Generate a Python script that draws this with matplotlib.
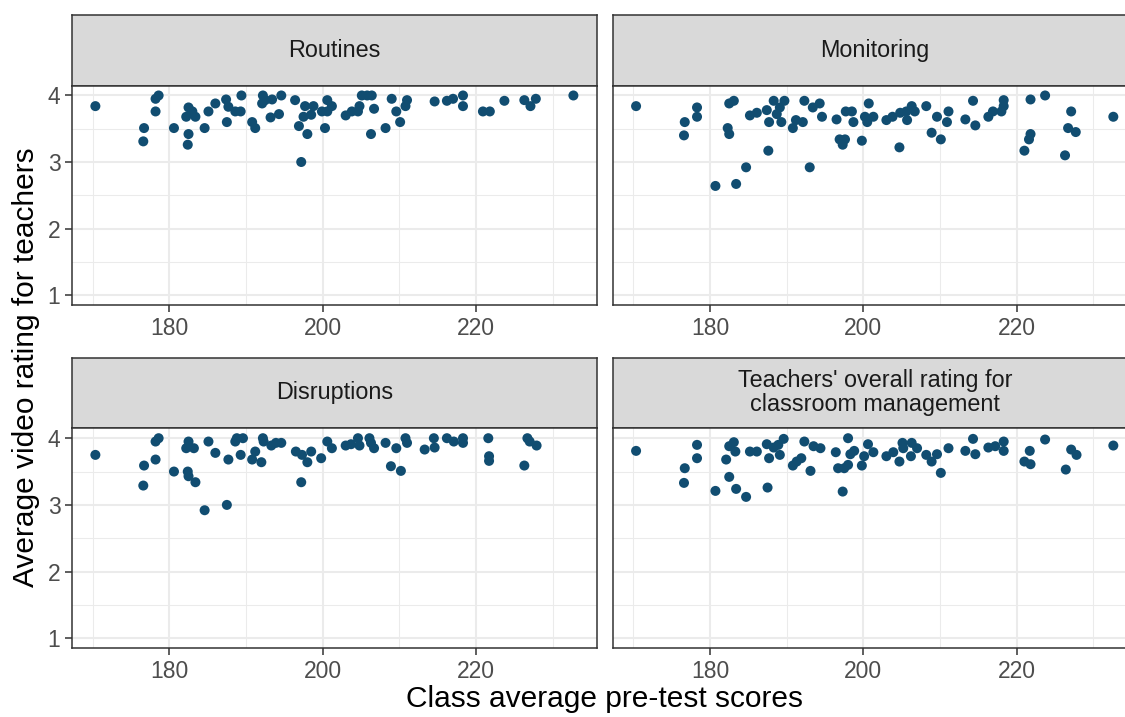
import matplotlib
matplotlib.use("Agg")
from matplotlib import pyplot as plt

plt.rcParams['font.family'] = ['Liberation Sans', 'DejaVu Sans']

# Class average pre-test score (x) vs average video rating (y), one list pair per facet
routines_x = [170.35, 176.6, 176.7, 178.2, 178.2, 178.6, 180.6, 182.4, 182.5, 182.5, 182.2, 183.0,
              183.4, 184.6, 185.1, 186.0, 187.4, 187.5, 187.7, 188.6, 189.3, 189.4, 190.8, 191.2,
              192.1, 192.2, 192.5, 193.4, 193.2, 194.3, 194.6, 196.4, 196.9, 197.2, 197.5, 197.7,
              198.0, 198.5, 198.8, 199.9, 200.3, 200.6, 200.6, 201.2, 203.0, 203.8, 204.6, 204.8,
              205.1, 205.8, 206.4, 206.3, 206.7, 208.2, 209.0, 209.6, 210.1, 210.8, 211.0, 214.6,
              216.2, 217.0, 218.3, 218.3, 220.9, 221.8, 223.7, 226.3, 227.1, 227.8, 232.7]
routines_y = [3.84, 3.31, 3.51, 3.76, 3.95, 4.0, 3.51, 3.26, 3.42, 3.82, 3.68, 3.76,
              3.68, 3.51, 3.76, 3.88, 3.94, 3.60, 3.83, 3.76, 3.76, 4.0, 3.60, 3.51,
              3.88, 4.0, 3.93, 3.94, 3.67, 3.72, 4.0, 3.93, 3.54, 3.0, 3.68, 3.84,
              3.42, 3.71, 3.84, 3.76, 3.51, 3.76, 3.93, 3.84, 3.70, 3.76, 3.76, 3.84,
              4.0, 4.0, 4.0, 3.42, 3.80, 3.51, 3.95, 3.76, 3.60, 3.84, 3.93, 3.91,
              3.92, 3.95, 4.0, 3.84, 3.76, 3.76, 3.92, 3.93, 3.84, 3.95, 4.0]

monitoring_x = [170.35, 176.6, 176.7, 178.3, 178.3, 180.7, 182.3, 182.5, 182.5, 183.1, 183.4, 184.7,
                185.2, 186.1, 187.4, 187.6, 187.7, 188.3, 188.7, 189.1, 189.3, 189.7, 190.8, 191.2,
                192.1, 192.3, 193.0, 193.4, 194.3, 194.6, 196.5, 196.9, 197.3, 197.6, 197.7, 198.5,
                198.7, 199.8, 200.2, 200.5, 200.7, 201.3, 203.0, 203.8, 204.7, 204.8, 205.6, 205.7,
                206.3, 206.7, 208.2, 208.9, 209.6, 210.1, 210.9, 211.1, 213.3, 214.3, 214.6, 216.3,
                216.9, 218.0, 218.3, 218.3, 221.0, 221.6, 221.8, 221.8, 223.7, 226.3, 226.7, 227.1,
                227.7, 232.6]
monitoring_y = [3.84, 3.40, 3.60, 3.68, 3.82, 2.64, 3.51, 3.42, 3.88, 3.92, 2.67, 2.92,
                3.70, 3.74, 3.78, 3.17, 3.60, 3.92, 3.72, 3.82, 3.60, 3.92, 3.51, 3.63,
                3.60, 3.92, 2.92, 3.82, 3.88, 3.68, 3.64, 3.34, 3.26, 3.34, 3.76, 3.76,
                3.60, 3.32, 3.68, 3.60, 3.88, 3.68, 3.63, 3.68, 3.22, 3.74, 3.76, 3.63,
                3.84, 3.76, 3.84, 3.44, 3.68, 3.34, 3.60, 3.76, 3.64, 3.92, 3.55, 3.68,
                3.76, 3.76, 3.84, 3.93, 3.17, 3.34, 3.42, 3.94, 4.0, 3.10, 3.51, 3.76,
                3.45, 3.68]

disruptions_x = [170.35, 176.6, 176.7, 178.2, 178.2, 178.6, 180.6, 182.4, 182.5, 183.4, 182.2, 182.5,
                 183.2, 184.6, 185.1, 186.0, 187.5, 187.7, 188.6, 188.8, 189.3, 189.6, 190.8, 191.2,
                 192.0, 192.2, 192.3, 193.3, 193.9, 194.6, 196.5, 197.2, 197.3, 198.0, 198.5, 199.8,
                 200.6, 201.2, 203.0, 203.7, 204.6, 204.8, 206.1, 206.3, 206.7, 208.2, 208.9, 209.6,
                 210.2, 210.8, 211.0, 213.3, 214.5, 214.6, 216.2, 217.1, 218.3, 218.3, 221.6, 221.7,
                 221.7, 226.3, 226.7, 227.0, 227.9]
disruptions_y = [3.75, 3.29, 3.59, 3.68, 3.95, 4.0, 3.50, 3.50, 3.43, 3.34, 3.85, 3.95,
                 3.85, 2.92, 3.95, 3.78, 3.0, 3.68, 3.95, 4.0, 3.75, 4.0, 3.68, 3.80,
                 3.64, 4.0, 3.95, 3.89, 3.93, 3.93, 3.80, 3.34, 3.75, 3.64, 3.80, 3.70,
                 3.95, 3.85, 3.89, 3.91, 4.0, 3.89, 4.0, 3.93, 3.85, 3.93, 3.58, 3.85,
                 3.51, 4.0, 3.93, 3.83, 4.0, 3.86, 4.0, 3.95, 4.0, 3.93, 4.0, 3.73,
                 3.66, 3.59, 4.0, 3.95, 3.89]

overall_x = [170.35, 176.6, 176.7, 178.3, 178.3, 180.7, 182.1, 182.5, 182.5, 183.1, 183.3, 183.4,
             184.7, 185.2, 186.1, 187.4, 187.5, 187.7, 188.3, 188.9, 189.1, 189.6, 190.8, 191.3,
             191.9, 192.3, 193.1, 193.5, 194.4, 196.4, 196.7, 197.3, 197.5, 198.0, 198.0, 198.3,
             198.8, 199.8, 200.1, 200.6, 201.3, 203.0, 203.9, 204.7, 205.1, 205.2, 206.2, 206.3,
             207.0, 208.2, 208.9, 209.6, 210.1, 211.1, 213.3, 214.3, 214.6, 216.3, 217.2, 218.3,
             218.3, 221.0, 221.7, 221.8, 223.7, 226.4, 227.1, 227.8, 232.6]
overall_y = [3.81, 3.33, 3.55, 3.70, 3.90, 3.21, 3.68, 3.42, 3.88, 3.94, 3.80, 3.24,
             3.12, 3.80, 3.80, 3.91, 3.26, 3.70, 3.86, 3.90, 3.75, 3.99, 3.59, 3.65,
             3.70, 3.95, 3.51, 3.88, 3.85, 3.79, 3.55, 3.20, 3.55, 3.60, 4.0, 3.76,
             3.81, 3.59, 3.73, 3.91, 3.79, 3.73, 3.79, 3.65, 3.93, 3.85, 3.73, 3.93,
             3.85, 3.75, 3.65, 3.76, 3.48, 3.85, 3.81, 3.99, 3.76, 3.86, 3.88, 3.95,
             3.81, 3.65, 3.81, 3.61, 3.98, 3.53, 3.83, 3.75, 3.89]

titles = ["Routines", "Monitoring", "Disruptions",
          "Teachers' overall rating for\nclassroom management"]
xs = [routines_x, monitoring_x, disruptions_x, overall_x]
ys = [routines_y, monitoring_y, disruptions_y, overall_y]

W, H = 1125, 717
point_col = '#114d71'
border_col = '#333333'

fig = plt.figure(figsize=(W / 100, H / 100), dpi=100)


def px_axes(x0, y0, x1, y1):
    return fig.add_axes([x0 / W, 1 - y1 / H, (x1 - x0) / W, (y1 - y0) / H])


cols = [(72.3, 596.7), (613.0, 1137.4)]
rows = [(15, 85.5, 305), (357.7, 428.2, 648.3)]

for i in range(4):
    r, c = divmod(i, 2)
    x0, x1 = cols[c]
    s_top, p_top, p_bot = rows[r]

    # strip
    st = px_axes(x0, s_top, x1, p_top)
    st.set_facecolor('#d9d9d9')
    st.set_xticks([])
    st.set_yticks([])
    for sp in st.spines.values():
        sp.set_color(border_col)
        sp.set_linewidth(1.1)
    st.text(0.5, 0.5, titles[i], ha='center', va='center', fontsize=16.8,
            color='#1a1a1a', transform=st.transAxes, linespacing=1.05)

    ax = px_axes(x0, p_top, x1, p_bot)
    ax.scatter(xs[i], ys[i], s=52, color=point_col, edgecolors='none', zorder=3)
    ax.set_xlim(167.34, 235.74)
    ax.set_ylim(0.85, 4.15)
    ax.set_xticks([180, 200, 220])
    ax.set_xticks([170, 190, 210, 230], minor=True)
    ax.set_yticks([1, 2, 3, 4])
    ax.set_yticks([1.5, 2.5, 3.5], minor=True)
    ax.grid(which='major', color='#ebebeb', linewidth=1.5, zorder=0)
    ax.grid(which='minor', color='#ebebeb', linewidth=0.75, zorder=0)
    ax.set_axisbelow(True)
    ax.tick_params(which='minor', length=0)
    ax.tick_params(which='major', length=5, width=1.1, color=border_col,
                   labelsize=16.5, labelcolor='#4d4d4d', pad=3.5)
    if c == 1:
        ax.tick_params(axis='y', which='major', left=False, labelleft=False)
    for sp in ax.spines.values():
        sp.set_color(border_col)
        sp.set_linewidth(1.1)

fig.text(604.8 / W, 1 - 699 / H, "Class average pre-test scores", ha='center', va='center',
         fontsize=21.5, color='black')
fig.text(26 / W, 1 - 367 / H, "Average video rating for teachers", ha='center', va='center',
         rotation=90, fontsize=21.5, color='black')

fig.savefig('out.png', dpi=100)
